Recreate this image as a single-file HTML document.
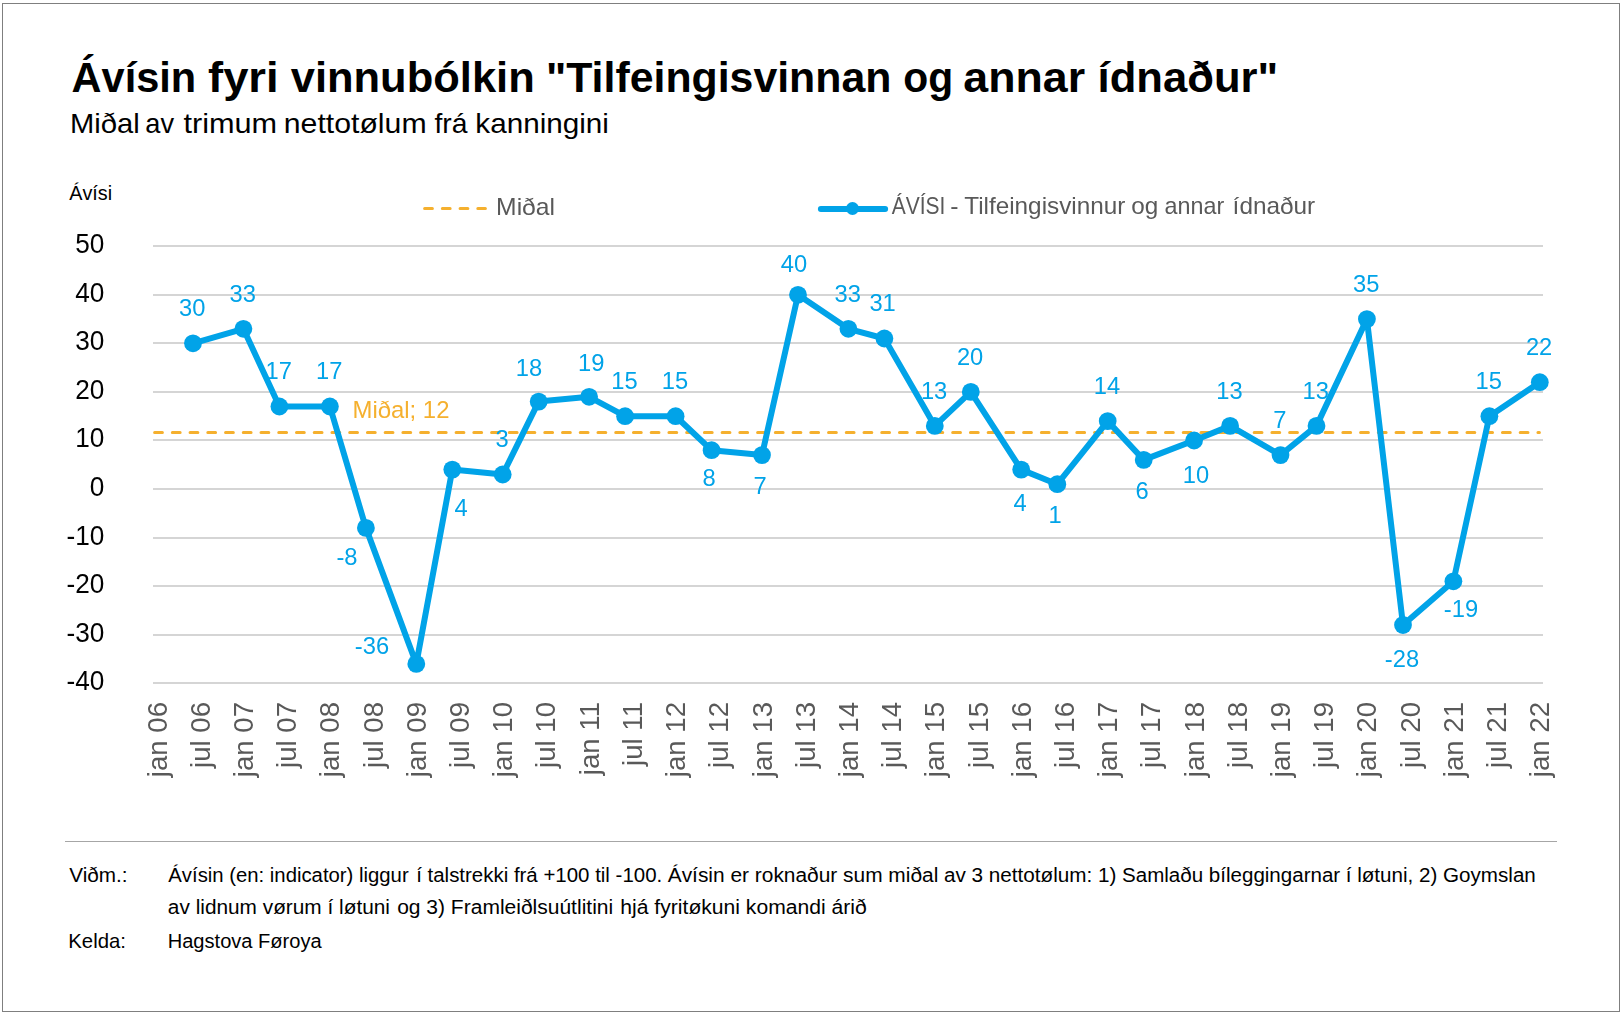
<!DOCTYPE html>
<html lang="fo">
<head>
<meta charset="utf-8">
<title>Ávísin fyri vinnubólkin</title>
<style>
html,body{margin:0;padding:0;background:#fff;}
body{width:1623px;height:1016px;overflow:hidden;}
svg{display:block;}
svg text{font-family:'Liberation Sans', sans-serif;}
.dl{font-size:23.5px;fill:#00A3E8;text-anchor:middle;}
.ya{font-size:27.6px;fill:#000;text-anchor:end;}
.xa{font-size:27.6px;fill:#595959;text-anchor:end;}
</style>
</head>
<body>
<svg width="1623" height="1016" viewBox="0 0 1623 1016" role="img" aria-label="Ávísin fyri vinnubólkin Tilfeingisvinnan og annar ídnaður">
<rect x="0" y="0" width="1623" height="1016" fill="#fff"/>
<rect x="2.5" y="3.5" width="1617" height="1008" fill="none" stroke="#7f7f7f" stroke-width="1"/>
<g id="titles">
<text y="91.90" style="font-size:42.0px;font-weight:700;fill:#000"><tspan x="71.61" textLength="124.51" lengthAdjust="spacingAndGlyphs">Ávísin</tspan> <tspan x="208.02" textLength="70.63" lengthAdjust="spacingAndGlyphs">fyri</tspan> <tspan x="290.70" textLength="244.05" lengthAdjust="spacingAndGlyphs">vinnubólkin</tspan> <tspan x="545.94" textLength="345.45" lengthAdjust="spacingAndGlyphs">"Tilfeingisvinnan</tspan> <tspan x="903.36" textLength="49.89" lengthAdjust="spacingAndGlyphs">og</tspan> <tspan x="963.34" textLength="121.76" lengthAdjust="spacingAndGlyphs">annar</tspan> <tspan x="1097.62" textLength="180.59" lengthAdjust="spacingAndGlyphs">ídnaður"</tspan></text>
<text y="133.30" style="font-size:27.6px;font-weight:400;fill:#000"><tspan x="69.99" textLength="69.68" lengthAdjust="spacingAndGlyphs">Miðal</tspan> <tspan x="145.31" textLength="28.74" lengthAdjust="spacingAndGlyphs">av</tspan> <tspan x="183.50" textLength="93.66" lengthAdjust="spacingAndGlyphs">trimum</tspan> <tspan x="283.81" textLength="142.78" lengthAdjust="spacingAndGlyphs">nettotølum</tspan> <tspan x="434.40" textLength="33.01" lengthAdjust="spacingAndGlyphs">frá</tspan> <tspan x="475.35" textLength="133.63" lengthAdjust="spacingAndGlyphs">kanningini</tspan></text>
<text transform="translate(69.20,200.40) scale(0.9952,1)" style="font-size:19.9px;font-weight:400;fill:#000">Ávísi</text>
</g>
<g id="chart" style="opacity:0.999">
<g id="legend">
<text transform="translate(496.11,214.60) scale(1.0453,1)" style="font-size:23.6px;font-weight:400;fill:#595959">Miðal</text>
<text y="214.40" style="font-size:23.6px;font-weight:400;fill:#595959"><tspan x="891.70" textLength="53.67" lengthAdjust="spacingAndGlyphs">ÁVÍSI</tspan> <tspan x="950.35" textLength="8.25" lengthAdjust="spacingAndGlyphs">-</tspan> <tspan x="964.20" textLength="161.20" lengthAdjust="spacingAndGlyphs">Tilfeingisvinnur</tspan> <tspan x="1131.17" textLength="27.02" lengthAdjust="spacingAndGlyphs">og</tspan> <tspan x="1164.61" textLength="59.64" lengthAdjust="spacingAndGlyphs">annar</tspan> <tspan x="1232.64" textLength="82.60" lengthAdjust="spacingAndGlyphs">ídnaður</tspan></text>
<line x1="424.6" y1="208.5" x2="485.4" y2="208.5" stroke="#F5B02E" stroke-width="3" stroke-linecap="round" stroke-dasharray="7.8 9.935"/>
<line x1="820.9" y1="208.9" x2="885.1" y2="208.9" stroke="#00A3E8" stroke-width="6.0" stroke-linecap="round"/>
<circle cx="852.5" cy="208.5" r="6.5" fill="#00A3E8"/>
</g>
<g id="grid" stroke="#D5D5D5" stroke-width="2">
<line x1="153.0" y1="246" x2="1543.0" y2="246"/>
<line x1="153.0" y1="295" x2="1543.0" y2="295"/>
<line x1="153.0" y1="343" x2="1543.0" y2="343"/>
<line x1="153.0" y1="392" x2="1543.0" y2="392"/>
<line x1="153.0" y1="440" x2="1543.0" y2="440"/>
<line x1="153.0" y1="489" x2="1543.0" y2="489"/>
<line x1="153.0" y1="538" x2="1543.0" y2="538"/>
<line x1="153.0" y1="586" x2="1543.0" y2="586"/>
<line x1="153.0" y1="635" x2="1543.0" y2="635"/>
<line x1="153.0" y1="683" x2="1543.0" y2="683"/>
</g>
<g id="yaxis">
<text class="ya" transform="translate(104.4,253.2) scale(0.95,1)">50</text>
<text class="ya" transform="translate(104.4,302.2) scale(0.95,1)">40</text>
<text class="ya" transform="translate(104.4,350.2) scale(0.95,1)">30</text>
<text class="ya" transform="translate(104.4,399.2) scale(0.95,1)">20</text>
<text class="ya" transform="translate(104.4,447.2) scale(0.95,1)">10</text>
<text class="ya" transform="translate(104.4,496.2) scale(0.95,1)">0</text>
<text class="ya" transform="translate(104.4,545.2) scale(0.95,1)">-10</text>
<text class="ya" transform="translate(104.4,593.2) scale(0.95,1)">-20</text>
<text class="ya" transform="translate(104.4,642.2) scale(0.95,1)">-30</text>
<text class="ya" transform="translate(104.4,690.2) scale(0.95,1)">-40</text>
</g>
<g id="xaxis">
<text class="xa" transform="translate(166.5,702) rotate(-90)">jan 06</text>
<text class="xa" transform="translate(209.7,702) rotate(-90)">jul 06</text>
<text class="xa" transform="translate(252.9,702) rotate(-90)">jan 07</text>
<text class="xa" transform="translate(296.1,702) rotate(-90)">jul 07</text>
<text class="xa" transform="translate(339.4,702) rotate(-90)">jan 08</text>
<text class="xa" transform="translate(382.6,702) rotate(-90)">jul 08</text>
<text class="xa" transform="translate(425.8,702) rotate(-90)">jan 09</text>
<text class="xa" transform="translate(469.0,702) rotate(-90)">jul 09</text>
<text class="xa" transform="translate(512.2,702) rotate(-90)">jan 10</text>
<text class="xa" transform="translate(555.4,702) rotate(-90)">jul 10</text>
<text class="xa" transform="translate(598.6,702) rotate(-90)">jan 11</text>
<text class="xa" transform="translate(641.8,702) rotate(-90)">jul 11</text>
<text class="xa" transform="translate(685.1,702) rotate(-90)">jan 12</text>
<text class="xa" transform="translate(728.3,702) rotate(-90)">jul 12</text>
<text class="xa" transform="translate(771.5,702) rotate(-90)">jan 13</text>
<text class="xa" transform="translate(814.7,702) rotate(-90)">jul 13</text>
<text class="xa" transform="translate(857.9,702) rotate(-90)">jan 14</text>
<text class="xa" transform="translate(901.1,702) rotate(-90)">jul 14</text>
<text class="xa" transform="translate(944.3,702) rotate(-90)">jan 15</text>
<text class="xa" transform="translate(987.5,702) rotate(-90)">jul 15</text>
<text class="xa" transform="translate(1030.7,702) rotate(-90)">jan 16</text>
<text class="xa" transform="translate(1074.0,702) rotate(-90)">jul 16</text>
<text class="xa" transform="translate(1117.2,702) rotate(-90)">jan 17</text>
<text class="xa" transform="translate(1160.4,702) rotate(-90)">jul 17</text>
<text class="xa" transform="translate(1203.6,702) rotate(-90)">jan 18</text>
<text class="xa" transform="translate(1246.8,702) rotate(-90)">jul 18</text>
<text class="xa" transform="translate(1290.0,702) rotate(-90)">jan 19</text>
<text class="xa" transform="translate(1333.2,702) rotate(-90)">jul 19</text>
<text class="xa" transform="translate(1376.4,702) rotate(-90)">jan 20</text>
<text class="xa" transform="translate(1419.7,702) rotate(-90)">jul 20</text>
<text class="xa" transform="translate(1462.9,702) rotate(-90)">jan 21</text>
<text class="xa" transform="translate(1506.1,702) rotate(-90)">jul 21</text>
<text class="xa" transform="translate(1549.3,702) rotate(-90)">jan 22</text>
</g>
<line x1="154.6" y1="432.5" x2="1539.4" y2="432.5" stroke="#F5B02E" stroke-width="3" stroke-linecap="round" stroke-dasharray="7.8 9.935"/>
<text transform="translate(352.5,417.5) scale(1.017,1)" style="font-size:23.5px;fill:#F5B02E">Miðal; 12</text>
<polyline points="193.0,343.3 243.4,328.8 279.4,406.5 329.9,406.5 365.9,527.9 416.3,663.9 452.3,469.6 502.7,474.5 538.7,401.6 589.1,396.8 625.1,416.2 675.6,416.2 711.6,450.2 762.0,455.1 798.0,294.8 848.4,328.8 884.4,338.5 934.8,425.9 970.8,391.9 1021.2,469.6 1057.3,484.2 1107.7,421.1 1143.7,459.9 1194.1,440.5 1230.1,425.9 1280.5,455.1 1316.5,425.9 1366.9,319.1 1403.0,625.0 1453.4,581.3 1489.4,416.2 1539.8,382.2" fill="none" stroke="#00A3E8" stroke-width="6.0" stroke-linejoin="round" stroke-linecap="round"/>
<g id="markers" fill="#00A3E8">
<circle cx="193.0" cy="343.3" r="8.9"/>
<circle cx="243.4" cy="328.8" r="8.9"/>
<circle cx="279.4" cy="406.5" r="8.9"/>
<circle cx="329.9" cy="406.5" r="8.9"/>
<circle cx="365.9" cy="527.9" r="8.9"/>
<circle cx="416.3" cy="663.9" r="8.9"/>
<circle cx="452.3" cy="469.6" r="8.9"/>
<circle cx="502.7" cy="474.5" r="8.9"/>
<circle cx="538.7" cy="401.6" r="8.9"/>
<circle cx="589.1" cy="396.8" r="8.9"/>
<circle cx="625.1" cy="416.2" r="8.9"/>
<circle cx="675.6" cy="416.2" r="8.9"/>
<circle cx="711.6" cy="450.2" r="8.9"/>
<circle cx="762.0" cy="455.1" r="8.9"/>
<circle cx="798.0" cy="294.8" r="8.9"/>
<circle cx="848.4" cy="328.8" r="8.9"/>
<circle cx="884.4" cy="338.5" r="8.9"/>
<circle cx="934.8" cy="425.9" r="8.9"/>
<circle cx="970.8" cy="391.9" r="8.9"/>
<circle cx="1021.2" cy="469.6" r="8.9"/>
<circle cx="1057.3" cy="484.2" r="8.9"/>
<circle cx="1107.7" cy="421.1" r="8.9"/>
<circle cx="1143.7" cy="459.9" r="8.9"/>
<circle cx="1194.1" cy="440.5" r="8.9"/>
<circle cx="1230.1" cy="425.9" r="8.9"/>
<circle cx="1280.5" cy="455.1" r="8.9"/>
<circle cx="1316.5" cy="425.9" r="8.9"/>
<circle cx="1366.9" cy="319.1" r="8.9"/>
<circle cx="1403.0" cy="625.0" r="8.9"/>
<circle cx="1453.4" cy="581.3" r="8.9"/>
<circle cx="1489.4" cy="416.2" r="8.9"/>
<circle cx="1539.8" cy="382.2" r="8.9"/>
</g>
<g id="datalabels">
<text class="dl" transform="translate(192.3,316.0) scale(1.01,1)">30</text>
<text class="dl" transform="translate(242.7,301.5) scale(1.01,1)">33</text>
<text class="dl" transform="translate(278.7,379.2) scale(1.01,1)">17</text>
<text class="dl" transform="translate(329.2,379.2) scale(1.01,1)">17</text>
<text class="dl" transform="translate(347.0,565.0) scale(1.01,1)">-8</text>
<text class="dl" transform="translate(372.0,654.0) scale(1.01,1)">-36</text>
<text class="dl" transform="translate(461.0,516.0) scale(1.01,1)">4</text>
<text class="dl" transform="translate(502.0,447.2) scale(1.01,1)">3</text>
<text class="dl" transform="translate(528.9,376.2) scale(1.01,1)">18</text>
<text class="dl" transform="translate(591.2,371.4) scale(1.01,1)">19</text>
<text class="dl" transform="translate(624.4,388.9) scale(1.01,1)">15</text>
<text class="dl" transform="translate(674.9,388.9) scale(1.01,1)">15</text>
<text class="dl" transform="translate(709.0,486.0) scale(1.01,1)">8</text>
<text class="dl" transform="translate(760.0,494.0) scale(1.01,1)">7</text>
<text class="dl" transform="translate(793.9,271.5) scale(1.01,1)">40</text>
<text class="dl" transform="translate(847.7,301.5) scale(1.01,1)">33</text>
<text class="dl" transform="translate(882.6,311.2) scale(1.01,1)">31</text>
<text class="dl" transform="translate(934.1,398.6) scale(1.01,1)">13</text>
<text class="dl" transform="translate(970.1,364.6) scale(1.01,1)">20</text>
<text class="dl" transform="translate(1020.0,511.0) scale(1.01,1)">4</text>
<text class="dl" transform="translate(1055.0,523.0) scale(1.01,1)">1</text>
<text class="dl" transform="translate(1107.0,393.8) scale(1.01,1)">14</text>
<text class="dl" transform="translate(1142.0,499.0) scale(1.01,1)">6</text>
<text class="dl" transform="translate(1196.0,483.0) scale(1.01,1)">10</text>
<text class="dl" transform="translate(1229.4,398.6) scale(1.01,1)">13</text>
<text class="dl" transform="translate(1279.8,427.8) scale(1.01,1)">7</text>
<text class="dl" transform="translate(1315.8,398.6) scale(1.01,1)">13</text>
<text class="dl" transform="translate(1366.2,291.8) scale(1.01,1)">35</text>
<text class="dl" transform="translate(1402.0,667.0) scale(1.01,1)">-28</text>
<text class="dl" transform="translate(1461.0,617.0) scale(1.01,1)">-19</text>
<text class="dl" transform="translate(1488.7,388.9) scale(1.01,1)">15</text>
<text class="dl" transform="translate(1539.1,354.9) scale(1.01,1)">22</text>
</g>
</g>
<line x1="65" y1="841.5" x2="1557" y2="841.5" stroke="#A6A6A6" stroke-width="1"/>
<g id="footer">
<text transform="translate(69.20,882.20) scale(1.0364,1)" style="font-size:20.0px;font-weight:400;fill:#000">Viðm.:</text>
<text y="882.20" style="font-size:20.0px;font-weight:400;fill:#000"><tspan x="168.30" textLength="240.38" lengthAdjust="spacingAndGlyphs">Ávísin (en: indicator) liggur</tspan> <tspan x="416.18" textLength="246.03" lengthAdjust="spacingAndGlyphs">í talstrekki frá +100 til -100.</tspan> <tspan x="667.70" textLength="270.63" lengthAdjust="spacingAndGlyphs">Ávísin er roknaður sum miðal</tspan> <tspan x="943.97" textLength="172.51" lengthAdjust="spacingAndGlyphs">av 3 nettotølum: 1)</tspan> <tspan x="1122.07" textLength="229.52" lengthAdjust="spacingAndGlyphs">Samlaðu bíleggingarnar í</tspan> <tspan x="1357.17" textLength="178.66" lengthAdjust="spacingAndGlyphs">løtuni, 2) Goymslan</tspan></text>
<text y="914.40" style="font-size:20.0px;font-weight:400;fill:#000"><tspan x="167.86" textLength="222.09" lengthAdjust="spacingAndGlyphs">av lidnum vørum í løtuni</tspan> <tspan x="397.15" textLength="216.02" lengthAdjust="spacingAndGlyphs">og 3) Framleiðlsuútlitini</tspan> <tspan x="620.34" textLength="246.42" lengthAdjust="spacingAndGlyphs">hjá fyritøkuni komandi árið</tspan></text>
<text transform="translate(68.31,948.30) scale(1.0179,1)" style="font-size:20.0px;font-weight:400;fill:#000">Kelda:</text>
<text transform="translate(167.69,948.30) scale(1.0046,1)" style="font-size:20.0px;font-weight:400;fill:#000">Hagstova Føroya</text>
</g>
</svg>
</body>
</html>
